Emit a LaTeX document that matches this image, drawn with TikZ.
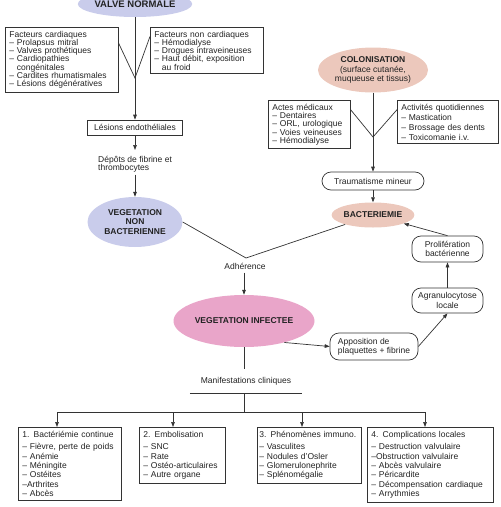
\documentclass[tikz,border=0pt]{standalone}
\usepackage{fontspec}
\setmainfont{Liberation Sans}
\usepackage{xcolor}
\usepackage{tikz}
\usetikzlibrary{calc,arrows.meta,shapes.geometric}
\definecolor{ink}{HTML}{222222}
\definecolor{wire}{HTML}{333333}
\definecolor{lilac}{HTML}{C9CCEB}
\definecolor{peach}{HTML}{ECC8BC}
\definecolor{rose}{HTML}{E9A5C9}
\tikzset{
  every node/.style={text=ink, font=\fontsize{8.5}{8.3}\selectfont},
  blob/.style={ellipse, inner sep=0pt, align=center, font=\fontsize{8.5}{9.6}\selectfont\bfseries},
  listbox/.style={draw=wire, line width=0.7pt, rectangle, anchor=north west, align=left, inner xsep=4pt, inner ysep=3.5pt},
  bigbox/.style={listbox, inner ysep=4pt, font=\fontsize{8.5}{9.3}\selectfont},
  plainbox/.style={draw=wire, line width=0.7pt, rectangle, inner sep=2pt},
  pill/.style={draw=wire, line width=0.7pt, rounded corners=9pt, align=center, inner sep=2pt, font=\fontsize{8.5}{9.3}\selectfont},
  wireline/.style={draw=wire, line width=0.7pt},
  arr/.style={wireline, -{Triangle[length=5pt,width=3.6pt]}},
}

\begin{document}
\begin{tikzpicture}[x=1pt,y=-1pt]
  \useasboundingbox (0,0) rectangle (501,507);
  % left branch
  \node[blob, fill=lilac, minimum width=102pt, minimum height=26pt, font=\fontsize{9.5}{10}\selectfont\bfseries] (valve) at (135,4) {VALVE NORMALE};
  \node[listbox, text width=105pt] (cardio) at (5,27) {Facteurs cardiaques\\
    -- Prolapsus mitral\\ -- Valves prothétiques\\ -- Cardiopathies\\ \phantom{-- }congénitales\\
    -- Cardites rhumatismales\\ -- Lésions dégénératives};
  \node[listbox, text width=105pt] (noncardio) at (150,27) {Facteurs non cardiaques\\
    -- Hémodialyse\\ -- Drogues intraveineuses\\ -- Haut débit, exposition\\ \phantom{-- }au froid};
  \coordinate (vleft) at (135,78);
  \node[plainbox, minimum width=95pt, minimum height=15pt] (lesions) at (135,127.5) {Lésions endothéliales};
  \node[anchor=north west, align=left, inner sep=2pt] (depots) at (96,154) {Dépôts de fibrine et\\ thrombocytes};
  \node[blob, fill=lilac, minimum width=95pt, minimum height=50pt] (vnb) at (135,222) {VEGETATION\\ NON\\ BACTERIENNE};
  \draw[arr] (valve.south) -- (lesions.north);
  \draw[wireline] ($(cardio.north east)!0.25!(cardio.south east)$) -- (vleft) -- ($(noncardio.north west)!0.2!(noncardio.south west)$);
  \draw[arr, shorten >=4pt] (lesions.south) -- (lesions.south |- depots.north);
  \draw[arr] (depots.south -| vnb.north) -- (vnb.north);

  % right branch
  \node[blob, fill=peach, minimum width=110pt, minimum height=45pt] (colo) at (373,70) {COLONISATION\\ {\mdseries (surface cutanée,}\\ {\mdseries muqueuse et tissus)}};
  \node[listbox, text width=74pt] (actes) at (268,100) {Actes médicaux\\
    -- Dentaires\\ -- ORL, urologique\\ -- Voies veineuses\\ -- Hémodialyse};
  \node[listbox, text width=93pt] (activ) at (397,100) {Activités quotidiennes\\[1.7pt]
    -- Mastication\\[1.7pt] -- Brossage des dents\\[1.7pt] -- Toxicomanie i.v.};
  \coordinate (vright) at (373,137);
  \node[pill, minimum width=102pt, minimum height=18pt] (trauma) at (373,181) {Traumatisme mineur};
  \node[blob, fill=peach, minimum width=82pt, minimum height=25pt] (bact) at (373,215) {BACTERIEMIE};
  \draw[arr] (colo.south) -- (trauma.north);
  \draw[wireline] ($(actes.north east)!0.2!(actes.south east)$) -- (vright) -- ($(activ.north west)!0.22!(activ.south west)$);
  \draw[arr] (trauma.south) -- (bact.north);

  % infection
  \coordinate (meet) at (246,258);
  \node (adh) at (245,266) {Adhérence};
  \node[blob, fill=rose, minimum width=141pt, minimum height=52pt] (vi) at (244,321) {VEGETATION INFECTEE};
  \draw[wireline] (vnb.east) -- (meet) -- (bact);
  \draw[arr] (adh.south -| vi.north) -- (vi.north);

  \node[pill, align=left, minimum width=88pt, minimum height=27pt] (appo) at (374,346.5) {Apposition de\\ plaquettes + fibrine};
  \node[pill, minimum width=71pt, minimum height=25pt] (agra) at (447.5,300.5) {Agranulocytose\\ locale};
  \node[pill, minimum width=71pt, minimum height=26pt] (prolif) at (447.5,249) {Prolifération\\ bactérienne};
  \draw[arr] (vi.-28) -- (appo.west);
  \draw[arr] (appo.east) -- (agra.south);
  \draw[arr] (agra.north) -- (prolif.south);
  \draw[arr] (prolif.north) -- (bact);

  % clinical signs
  \node[minimum width=112pt, minimum height=24pt] (manif) at (246,381) {Manifestations cliniques};
  \draw[wireline] (vi.south) -- (vi.south |- manif.north);
  \draw[wireline] (manif.south west) -- (manif.south east);
  \coordinate (split) at (244,412);
  \coordinate (busl) at (57,412);
  \coordinate (busr) at (425,412);
  \draw[wireline] (manif.south -| split) -- (split);
  \draw[wireline] (busl) -- (busr);

  \node[bigbox, text width=95pt] (b1) at (18,427) {1. Bactériémie continue\\[3pt]
    -- Fièvre, perte de poids\\ -- Anémie\\ -- Méningite\\ -- Ostéites\\ --Arthrites\\ -- Abcès};
  \node[bigbox, text width=78pt] (b2) at (139,427) {2. Embolisation\\[3pt]
    -- SNC\\ -- Rate\\ -- Ostéo-articulaires\\ -- Autre organe};
  \node[bigbox, text width=100pt, inner xsep=2pt] (b3) at (257,427) {3. Phénomènes immuno.\\[3pt]
    -- Vasculites\\ -- Nodules d'Osler\\ -- Glomerulonephrite\\ -- Splénomégalie};
  \node[bigbox, text width=118pt] (b4) at (367,427) {4. Complications locales\\[3pt]
    -- Destruction valvulaire\\ --Obstruction valvulaire\\ -- Abcès valvulaire\\ -- Péricardite\\
    -- Décompensation cardiaque\\ -- Arrythmies};
  \foreach \b/\x in {b1/57,b2/173,b3/302,b4/425}
    \draw[arr] (\x,412) -- (\x,412 |- \b.north);
\end{tikzpicture}
\end{document}
